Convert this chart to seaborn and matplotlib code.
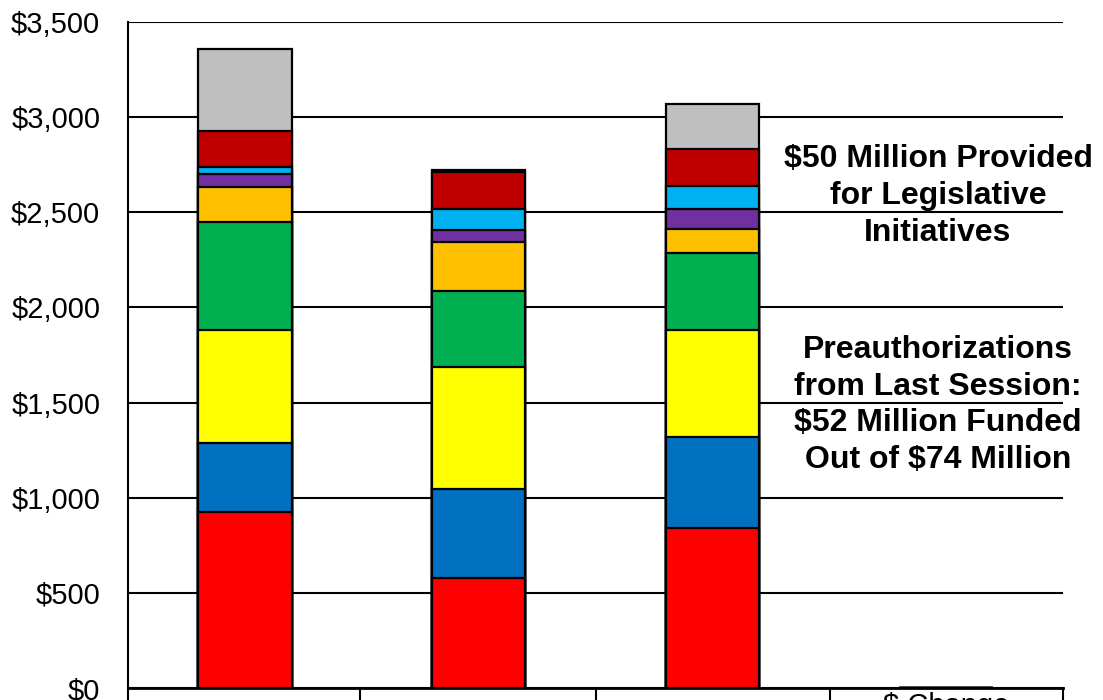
import matplotlib
matplotlib.use("Agg")
import matplotlib.pyplot as plt
import seaborn as sns
import pandas as pd
import numpy as np

categories = ["Column 1", "Column 2", "Column 3", "$ Change"]
series_names = ["Red", "Blue", "Yellow", "Green", "Orange", "Purple",
                "Light Blue", "Dark Red", "Gray"]
red = [925, 576, 842, 0]
blue = [364, 470, 479, 0]
yellow = [595, 642, 560, 0]
green = [565, 400, 407, 0]
orange = [184, 257, 125, 0]
purple = [68, 62, 102, 0]
light_blue = [37, 110, 121, 0]
dark_red = [191, 197, 198, 0]
gray = [431, 8, 233, 0]
colors = ["#FF0000", "#0070C0", "#FFFF00", "#00B050", "#FFC000",
          "#7030A0", "#00B0F0", "#C00000", "#BFBFBF"]
yticks = [0, 500, 1000, 1500, 2000, 2500, 3000, 3500]
ytick_labels = ["$0", "$500", "$1,000", "$1,500", "$2,000", "$2,500",
                "$3,000", "$3,500"]
note1 = "$50 Million Provided\nfor Legislative\nInitiatives"
note2 = "Preauthorizations\nfrom Last Session:\n$52 Million Funded\nOut of $74 Million"

sns.set_style("white")
plt.rcParams["font.family"] = ["Liberation Sans", "DejaVu Sans"]
plt.rcParams["text.color"] = "black"
plt.rcParams["ytick.color"] = "black"
plt.rcParams["ytick.labelcolor"] = "black"

series = [red, blue, yellow, green, orange, purple, light_blue, dark_red, gray]
cum = np.cumsum(np.array(series, dtype=float), axis=0)

fig = plt.figure(figsize=(11.03, 7.0), dpi=100)
ax = fig.add_axes([128/1103, 12/700, (1063-128)/1103, (688-22)/700])

# draw from top of stack downward so each lower segment overlays
for i in range(len(series) - 1, -1, -1):
    df = pd.DataFrame({"cat": categories, "val": cum[i]})
    sns.barplot(data=df, x="cat", y="val", ax=ax, color=colors[i],
                width=0.4, edgecolor="black", linewidth=1.6,
                saturation=1, order=categories, zorder=3)

ax.set_ylim(0, 3500)
ax.set_xlim(-0.5, 3.5)
ax.set_yticks(yticks)
ax.set_yticklabels(ytick_labels, fontsize=21, color="black")
ax.tick_params(axis="y", length=0, pad=20)
ax.tick_params(axis="x", length=0, labelbottom=False)
ax.set_xlabel("")
ax.set_ylabel("")
ax.grid(axis="y", color="black", linewidth=1.5, zorder=0)
ax.set_axisbelow(True)
for s in ["top", "right"]:
    ax.spines[s].set_visible(False)
ax.spines["left"].set_color("black")
ax.spines["left"].set_linewidth(1.5)
ax.spines["bottom"].set_color("black")
ax.spines["bottom"].set_linewidth(2)
ax.spines["bottom"].set_zorder(5)

# table grid below the axis
for xf in [0, 0.248, 0.5, 0.751, 1.0]:
    ax.plot([xf, xf], [0, -0.05], transform=ax.transAxes, color="black",
            linewidth=1.5, clip_on=False)
ax.text(3.0, -22, categories[3], ha="center", va="top", fontsize=21,
        color="black", clip_on=False)

ax.text(2.965, 2585, note1, ha="center", va="center", fontsize=23,
        fontweight="bold", linespacing=1.3, color="black")
ax.text(2.965, 1487, note2, ha="center", va="center", fontsize=23,
        fontweight="bold", linespacing=1.3, color="black")

fig.savefig("out.png", dpi=100)
